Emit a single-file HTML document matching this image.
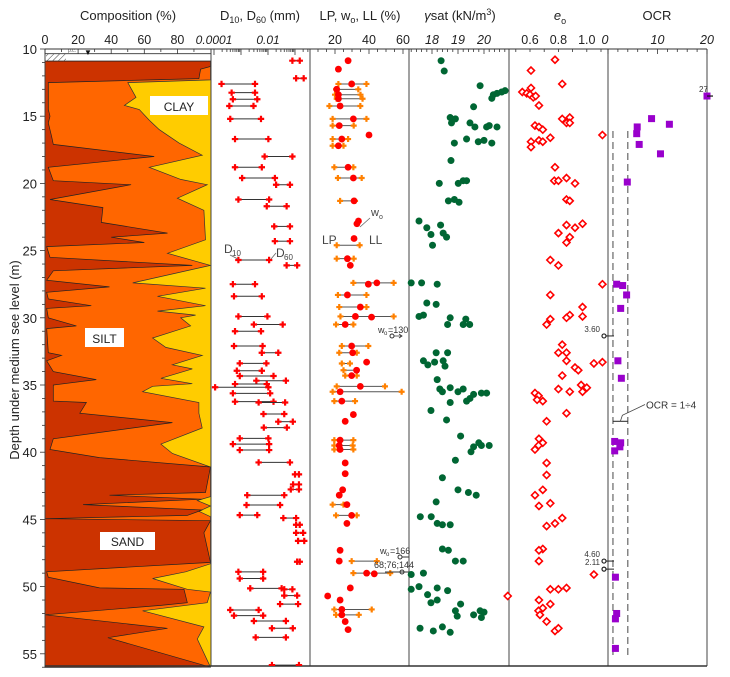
<!DOCTYPE html>
<html><head><meta charset="utf-8"><style>
body{margin:0;background:#fff}
svg{display:block;font-family:"Liberation Sans",Arial,sans-serif}
</style></head><body>
<svg id="c" width="730" height="677" viewBox="0 0 730 677" xmlns="http://www.w3.org/2000/svg">
<defs>
<pattern id="hatch" width="4" height="4" patternUnits="userSpaceOnUse" patternTransform="rotate(45)"><line x1="0" y1="0" x2="0" y2="4" stroke="#444" stroke-width="1"/></pattern>
<clipPath id="clipD"><rect x="211" y="49" width="99" height="617"/></clipPath>
<clipPath id="clipOCR"><rect x="608" y="49" width="99" height="617"/></clipPath>
</defs>
<g id="root"></g>
</svg>
<script>
// ---------- DATA ----------
const sandDepth=[10.9,11.3,11.5,12.2,12.5,14.5,15,15.5,16.5,17.1,18.0,18.8,19.8,20.1,21.2,21.8,22.9,23.2,23.7,24.0,24.4,24.7,25.5,26.1,26.5,27.2,27.7,28.1,28.6,29.1,29.3,30.0,30.6,30.8,32.6,32.8,33.2,34.0,34.6,35.0,36.2,36.3,37.1,37.8,39.0,39.8,40.4,41.1,43.0,43.2,43.5,43.9,44.3,44.7,44.95,45.1,46.0,48.2,48.9,49.3,50.1,50.2,51.2,51.4,52.1,53.1,53.8,56];
const sandPct=[100,100,94,93,2,2,3,2,4,5,66,2,5,52,3,35,34,49,74,40,60,1,3,89,5,1,39,1,2,28,1,2,19,1,2,10,1,5,31,5,5,25,21,77,5,3,33,100,97,39,95,23,95,86,0,100,96,100,1,2,33,84,86,70,0,74,38,100];
const siltTopDepth=[10.9,12.3,12.5,13.6,14.2,14.5,15.3,16.0,17.0,17.9,18.8,19.7,20.1,21.1,22.0,24.2,25.2,26.1,27.4,27.8,28.4,29.1,29.5,29.8,30.0,30.6,31.5,32.2,32.8,33.5,33.8,34.5,34.9,35.1,35.5,36.3,37.1,38.2,39.4,40.1,41.1,43.3,43.6,44.0,44.4,44.8,45.1,48.3,48.9,49.4,50.2,50.4,51.2,51.8,53.0,53.9,56];
const siltTopPct=[100,100,50,55,48,57,63,69,81,95,63,82,98,80,96,97,74,100,53,97,68,97,68,91,82,88,65,73,95,77,89,70,89,65,59,93,93,95,70,77,100,100,92,100,93,100,100,100,85,65,86,100,98,59,96,92,100];

const dDepth=[10.87,12.18,12.6,13.25,13.74,14.24,15.2,16.7,18.0,18.8,19.6,20.1,21.2,21.7,23.2,24.3,25.7,26.1,27.5,28.4,29.9,30.5,31.0,32.1,32.6,33.39,33.94,34.33,34.68,34.93,35.17,35.62,36.24,36.3,37.16,37.73,38.17,38.97,39.4,39.84,40.76,41.65,42.4,42.77,43.2,43.93,44.68,44.9,45.4,46.0,46.6,48.15,48.9,49.4,50.13,50.2,50.67,51.3,51.74,52.16,52.56,53.1,53.78,55.84];
const d10=[0.08,0.11,0.00019,0.00045,0.0005,0.00037,0.0004,0.0006,0.0075,0.0006,0.0011,0.02,0.0008,0.009,0.017,0.018,0.0008,0.049,0.0005,0.00055,0.0008,0.003,0.0006,0.00055,0.0059,0.0009,0.0007,0.0009,0.0037,0.0006,0.00011,0.0005,0.0006,0.0045,0.0068,0.024,0.007,0.0009,0.0005,0.0009,0.0045,0.1,0.085,0.07,0.0017,0.0016,0.0009,0.037,0.11,0.11,0.13,0.12,0.0008,0.0009,0.0022,0.04,0.04,0.028,0.0004,0.00055,0.003,0.014,0.0035,0.014];
const d60=[0.15,0.21,0.0033,0.0033,0.004,0.0029,0.0055,0.0103,0.08,0.0059,0.018,0.065,0.011,0.049,0.065,0.065,0.011,0.12,0.0033,0.0059,0.0095,0.035,0.0055,0.0063,0.024,0.0087,0.0059,0.016,0.046,0.009,0.0103,0.012,0.016,0.043,0.04,0.083,0.05,0.0103,0.011,0.011,0.065,0.14,0.14,0.14,0.04,0.028,0.004,0.11,0.15,0.2,0.22,0.15,0.0066,0.0066,0.032,0.08,0.12,0.13,0.0045,0.0066,0.046,0.083,0.046,0.14];

const limDepth=[12.6,13.0,13.4,13.7,14.24,15.2,15.7,16.7,17.2,18.8,19.6,21.3,24.6,25.6,27.4,28.3,29.2,29.9,30.5,32.1,32.6,33.4,33.9,34.3,35.1,35.5,36.2,39.1,39.5,39.8,43.9,44.7,48.1,49.0,51.7,52.1];
const lpVal=[22,20.6,20,21,16.7,18.6,18.6,18.6,18.6,19.6,21.7,23,21,21,30.8,21.7,22.5,23.2,20.6,24,22.5,24,25,26,21,18.6,19.6,19.6,19.6,19.6,18.6,20.6,29.8,30.8,19.6,20.6];
const llVal=[38.5,33.7,35,36.2,34.9,38.5,31,27.7,25,30.8,35.7,31.8,34.5,31,54.5,38.5,38.5,54.5,30.8,39.6,32.8,28.8,32.7,32.8,49.4,59.2,31.8,30.8,30.4,30.8,25,32.8,44.6,52.5,41.6,34];
const wDepth=[10.87,11.5,12.6,13.0,13.4,13.7,14.24,15.2,15.7,16.4,16.7,17.2,18.8,19.6,21.3,22.8,23.0,24.1,25.6,26.1,27.4,27.5,28.3,29.2,29.9,29.95,30.5,32.1,32.6,33.3,33.9,34.3,35.1,35.5,36.2,37.2,37.7,39.1,39.5,39.8,40.8,41.6,42.8,43.2,43.9,44.7,45.3,47.3,48.1,49.0,49.05,50.1,50.7,51.0,51.7,52.1,52.6,53.2];
const wVal=[27.7,22,29.8,21,22,22,23,30.8,22.5,40,24,22,27.7,30.8,31.2,33.8,32.9,31.2,27.3,29,44.6,39.6,27.3,34.9,32,41.5,26,29.8,30.4,38.6,32.7,29.8,34.9,23,24,30.8,26,23,22.5,23,26,26,24.5,22.5,27,29.8,27,23,22.5,38.6,43.1,29,15.7,23,24,24,26,27.7];

const gDepth=[10.87,11.64,12.73,13.1,13.2,13.3,13.4,13.67,14.3,15.1,15.2,15.5,15.5,15.8,15.8,15.7,15.8,16.7,16.9,16.8,17.0,17.0,18.3,20.0,20.0,19.8,19.8,21.3,21.2,21.4,22.8,23.3,23.8,24.6,23.1,23.7,24.0,27.4,27.4,27.5,28.9,29.0,29.9,29.8,30.0,30.5,30.1,30.5,30.5,32.6,32.6,33.2,33.3,33.2,33.6,33.5,34.6,35.3,35.5,35.2,35.5,35.3,35.7,35.6,35.6,36.2,36.0,36.3,36.9,37.6,38.8,39.6,39.3,39.5,39.5,39.97,40.6,41.9,42.8,43.0,43.2,43.7,44.8,44.8,45.3,45.4,45.4,47.2,47.3,48.1,48.1,49.1,49.0,50.2,50.0,50.1,50.3,50.6,51.2,51.0,51.3,51.8,52.2,52.1,51.8,51.9,52.3,53.1,53.3,53.0,53.4];
const gVal=[18.35,18.47,19.85,20.81,20.68,20.5,20.36,20.3,19.6,18.7,18.9,18.75,19.46,19.65,20.1,20.2,20.5,19.33,19.78,20.0,20.3,18.86,18.73,18.28,19.01,19.2,19.33,18.63,18.86,19.04,17.5,17.8,17.96,18.02,18.33,18.43,18.56,17.2,17.6,18.2,17.8,18.16,17.5,17.67,18.7,18.6,19.3,19.2,19.45,18.16,18.6,17.67,18.1,18.43,18.5,17.84,18.2,18.3,18.4,18.7,19.0,19.2,19.6,19.9,20.1,19.33,19.46,18.7,17.96,18.56,19.1,19.6,19.8,19.9,20.2,19.5,18.9,18.4,19.0,19.4,19.7,18.16,17.55,17.97,18.2,18.4,18.7,18.4,18.63,18.9,19.2,17.2,17.67,17.2,17.5,18.2,18.6,17.83,17.96,18.2,19.1,18.9,18.97,19.6,19.85,20.0,19.9,17.54,18.05,18.4,18.7];

const eDepth=[10.8,11.6,12.6,12.9,13.2,13.3,13.4,13.6,13.5,14.2,15.2,15.1,15.5,15.5,15.7,15.8,16.0,16.4,16.6,16.8,16.9,16.9,17.3,18.8,19.8,19.8,19.6,20.0,21.2,21.3,23.0,23.3,23.1,23.7,24.0,24.4,25.7,26.1,27.5,28.3,29.2,29.9,29.8,30.0,30.1,30.5,32.0,32.6,32.6,33.2,33.7,33.9,33.4,33.3,34.3,35.3,35.5,35.0,35.2,35.5,35.6,35.8,36.1,36.2,37.1,37.7,39.0,39.3,39.5,39.8,40.8,41.7,42.8,43.2,44.0,43.8,44.9,45.3,45.5,47.2,47.3,48.1,49.1,50.2,50.2,50.1,50.7,51.0,51.3,51.6,51.8,52.1,52.6,53.3,53.1];
const eVal=[0.776,0.607,0.827,0.607,0.546,0.577,0.6,0.623,0.64,0.663,0.827,0.88,0.857,0.88,0.635,0.663,0.69,1.11,0.743,0.663,0.69,0.607,0.607,0.776,0.771,0.8,0.857,0.917,0.857,0.88,0.97,0.917,0.857,0.8,0.88,0.857,0.743,0.8,1.11,0.743,0.97,0.97,0.88,0.857,0.743,0.717,0.827,0.8,0.857,0.857,0.917,0.94,1.05,1.11,0.827,0.8,0.88,0.96,1.0,0.97,0.635,0.66,0.65,0.69,0.857,0.717,0.663,0.69,0.66,0.635,0.717,0.717,0.69,0.635,0.663,0.743,0.827,0.776,0.717,0.69,0.663,0.663,1.05,0.743,0.8,0.857,0.443,0.663,0.743,0.69,0.66,0.67,0.717,0.776,0.8];

const ocrDepth=[13.5,15.18,15.6,15.8,16.3,17.1,17.8,19.9,27.5,27.6,28.3,29.3,33.2,34.5,39.2,39.3,39.6,39.9,49.3,52.0,52.4,54.6];
const ocrVal=[27,8.8,12.4,5.9,5.8,6.3,10.6,3.9,1.75,2.96,3.76,2.56,2.0,2.7,1.35,2.56,2.4,1.35,1.5,1.75,1.5,1.5];

const depthTicks=[10,15,20,25,30,35,40,45,50,55];
const compTicks=[0,20,40,60,80];
const lpTicks=[20,40,60];
const gTicks=[18,19,20];
const eTicks=["0.6","0.8","1.0"];
const ocrTicks=[0,10,20];

// ---------- SCALES ----------
const yD=d=>49+(d-10)*13.44;
const xC=p=>45+p*1.655;
const xDm=v=>214+(Math.log10(v)+4)*27;
const xLP=v=>301+v*1.7;
const xG=g=>432+(g-18)*26;
const xE=e=>530+(e-0.6)*142;
const xO=o=>608+Math.min(o,20)*4.95;
const NS="http://www.w3.org/2000/svg";
const root=document.getElementById('root');
function el(tag,attrs,parent){const e=document.createElementNS(NS,tag);for(const k in attrs)e.setAttribute(k,attrs[k]);(parent||root).appendChild(e);return e;}
function txt(x,y,s,attrs,parent){const t=el('text',Object.assign({x:x,y:y,'font-size':12,fill:'#222'},attrs||{}),parent);t.textContent=s;return t;}

// ---------- COMPOSITION ----------
const gComp=el('g',{});


const yel=el('rect',{x:45,y:yD(10.9),width:166,height:yD(56)-yD(10.9),fill:'#ffcc00'},gComp);


function areaPath(ds,ps){let s='M45,'+yD(ds[0]);for(let i=0;i<ds.length;i++)s+=' L'+xC(ps[i]).toFixed(1)+','+yD(ds[i]).toFixed(1);s+=' L45,'+yD(ds[ds.length-1])+' Z';return s;}
const orange=el('path',{d:areaPath(siltTopDepth,siltTopPct),fill:'#ff6600',stroke:'#333','stroke-width':0.7},gComp);


const dark=el('path',{d:areaPath(sandDepth,sandPct),fill:'#cc3300',stroke:'#222','stroke-width':0.7},gComp);


const hatch=el('rect',{x:46,y:yD(10.35),width:20,height:yD(10.9)-yD(10.35),fill:'url(#hatch)'},gComp);


el('line',{x1:45,x2:211,y1:yD(10.35),y2:yD(10.35),stroke:'#333','stroke-width':0.8},gComp);
const wt=txt(88,55,'▼',{'font-size':8,'text-anchor':'middle',fill:'#111'},gComp);


txt(68,52,'p.c.',{'font-size':5,fill:'#555'},gComp);
function labelBox(x,y,w,h,s,name){const g=el('g',{},gComp);el('rect',{x:x,y:y,width:w,height:h,fill:'#fff'},g);txt(x+w/2,y+h-4,s,{'text-anchor':'middle','font-size':12},g);}
labelBox(150,96,58,19,'CLAY','clay-label');
labelBox(85,328,39,19,'SILT','silt-label');
labelBox(100,532,55,18,'SAND','sand-label');

// ---------- FRAMES & AXES ----------
const panels=[45,211,310,409,509,608,707];
for(let i=0;i<panels.length;i++){
  const l=el('line',{x1:panels[i],x2:panels[i],y1:49,y2:666,stroke:'#444','stroke-width':1});
  
  
}
const topAx=el('line',{x1:45,x2:707,y1:49,y2:49,stroke:'#333','stroke-width':1});


const botAx=el('line',{x1:45,x2:707,y1:666,y2:666,stroke:'#333','stroke-width':1.5});


function tick(x,len){el('line',{x1:x,x2:x,y1:49,y2:49+len,stroke:'#333','stroke-width':0.8});}
// depth axis
for(let d=10;d<=56;d++){el('line',{x1:45,x2:d%5===0?40:42,y1:yD(d),y2:yD(d),stroke:'#333','stroke-width':0.8});}
depthTicks.forEach(d=>{const t=txt(37,yD(d)+5,String(d),{'text-anchor':'end','font-size':13});});
const yt=txt(0,0,'Depth under medium see level (m)',{'font-size':13,'text-anchor':'middle',transform:'translate(19,360) rotate(-90)'});


// composition ticks
for(let p=0;p<100;p+=10)tick(xC(p),p%20===0?5:3);
compTicks.forEach(p=>{const t=txt(xC(p),44,String(p),{'text-anchor':'middle','font-size':12.5});});
// D ticks (log)
for(let e=-4;e<=0;e++){for(let m=1;m<10;m++){const x=xDm(m*Math.pow(10,e));if(x>211&&x<310)tick(x,m===1?6:3);}}
[['0.0001',0.0001],['0.01',0.01]].forEach(a=>{const t=txt(xDm(a[1]),44,a[0],{'text-anchor':'middle','font-size':12,'font-style':'italic'});});
// LP ticks
for(let v=10;v<=60;v+=5)tick(xLP(v),v%20===0?5:3);
lpTicks.forEach(v=>{const t=txt(xLP(v),44,String(v),{'text-anchor':'middle','font-size':12.5});});
// gamma ticks
for(let g=17.2;g<=20.9;g+=0.2)tick(xG(g),Math.abs(g-Math.round(g))<0.05?5:3);
gTicks.forEach(g=>{const t=txt(xG(g),44,String(g),{'text-anchor':'middle','font-size':12.5,'font-style':'italic'});});
// e ticks
for(let e=0.5;e<=1.12;e+=0.1)tick(xE(e),3);
eTicks.forEach(s=>{const t=txt(xE(parseFloat(s)),44,s,{'text-anchor':'middle','font-size':12.5});});
// OCR ticks
for(let o=0;o<=20;o+=2)tick(xO(o),o%10===0?5:3);
ocrTicks.forEach(o=>{const t=txt(xO(o)+(o===0?-3:0),44,String(o),{'text-anchor':'middle','font-size':12.5,'font-style':'italic'});});

// titles
function title(x,html,name){const t=el('text',{x:x,y:20,'font-size':13,'text-anchor':'middle',fill:'#222'});t.innerHTML=html;}
title(128,'Composition (%)','composition-title');
title(260,'D<tspan font-size="9" dy="3">10</tspan><tspan dy="-3">, D</tspan><tspan font-size="9" dy="3">60</tspan><tspan dy="-3">  (mm)</tspan>','grain-size-title');
title(360,'LP, w<tspan font-size="9" dy="3">o</tspan><tspan dy="-3">, LL (%)</tspan>','limits-title');
title(460,'<tspan font-style="italic">γ</tspan>sat  (kN/m<tspan font-size="9" dy="-5">3</tspan><tspan dy="5">)</tspan>','unit-weight-title');
title(560,'<tspan font-style="italic">e</tspan><tspan font-size="9" dy="4">o</tspan>','void-ratio-title');
title(657,'OCR','ocr-title');

// ---------- D10/D60 ----------
const gD=el('g',{'clip-path':'url(#clipD)'});


function plus(x,y,c,g,s){el('path',{d:`M${x-s},${y}H${x+s}M${x},${y-s}V${y+s}`,stroke:c,'stroke-width':2.2},g);}
for(let i=0;i<dDepth.length;i++){
  const y=yD(dDepth[i]),x1=xDm(d10[i]),x2=xDm(d60[i]);
  const ln=el('line',{x1:x1,x2:x2,y1:y,y2:y,stroke:'#333','stroke-width':1},gD);
  
  
  plus(x1,y,'#ff0000',gD,3.2);plus(x2,y,'#ff0000',gD,3.2);
}
txt(224,253,'D',{'font-size':12,fill:'#444'});txt(232,256,'10',{'font-size':8,fill:'#444'});
txt(276,257,'D',{'font-size':12,fill:'#444'});txt(284,260,'60',{'font-size':8,fill:'#444'});
el('line',{x1:230,x2:238,y1:255,y2:259,stroke:'#666','stroke-width':0.8});
el('line',{x1:276,x2:271,y1:253,y2:259,stroke:'#666','stroke-width':0.8});

// ---------- LP / w / LL ----------
const gL=el('g',{});


for(let i=0;i<limDepth.length;i++){
  const y=yD(limDepth[i]);
  const ln=el('line',{x1:xLP(lpVal[i]),x2:xLP(llVal[i]),y1:y,y2:y,stroke:'#555','stroke-width':1},gL);
  
  
  plus(xLP(lpVal[i]),y,'#ff8000',gL,3);plus(xLP(llVal[i]),y,'#ff8000',gL,3);
}
for(let i=0;i<wDepth.length;i++){
  const c=el('circle',{cx:xLP(wVal[i]),cy:yD(wDepth[i]),r:3.4,fill:'#ff0000'},gL);
  
  
}
txt(371,216,'w',{'font-size':11,fill:'#444'});txt(379,219,'o',{'font-size':7,fill:'#444'});
el('line',{x1:370,x2:360,y1:218,y2:227,stroke:'#666','stroke-width':0.8});
txt(322,244,'LP',{'font-size':12,fill:'#444'});txt(369,244,'LL',{'font-size':12,fill:'#444'});
txt(378,333,'w',{'font-size':9,fill:'#333'});txt(384,335,'o',{'font-size':6,fill:'#333'});txt(388,333,'=130',{'font-size':9,fill:'#333'});
el('circle',{cx:392,cy:336,r:2,fill:'none',stroke:'#333'});el('path',{d:'M394,336H402M399,334L402,336L399,338',stroke:'#333',fill:'none','stroke-width':0.8});
txt(380,554,'w',{'font-size':9,fill:'#333'});txt(386,556,'o',{'font-size':6,fill:'#333'});txt(390,554,'=166',{'font-size':9,fill:'#333'});
el('circle',{cx:400,cy:557,r:2,fill:'none',stroke:'#333'});el('line',{x1:402,x2:409,y1:557,y2:557,stroke:'#333'});
txt(374,568,'68;76;144',{'font-size':9,fill:'#333'});
el('line',{x1:385,x2:409,y1:572,y2:572,stroke:'#333'});el('circle',{cx:402,cy:572,r:2,fill:'none',stroke:'#333'});

// ---------- gamma ----------
const gGm=el('g',{});


for(let i=0;i<gDepth.length;i++){
  const c=el('circle',{cx:xG(gVal[i]),cy:yD(gDepth[i]),r:3.5,fill:'#006633'},gGm);
  
  
}

// ---------- e0 ----------
const gE=el('g',{});


for(let i=0;i<eDepth.length;i++){
  const x=xE(eVal[i]),y=yD(eDepth[i]);
  const p=el('path',{d:`M${x},${y-3.5}L${x+3.5},${y}L${x},${y+3.5}L${x-3.5},${y}Z`,fill:'#fff',stroke:'#ff0000','stroke-width':1.6},gE);
  
  
}

// ---------- OCR ----------
const gO=el('g',{});


[1,4].forEach(v=>{const l=el('line',{x1:xO(v),x2:xO(v),y1:yD(16.1),y2:yD(55.3),stroke:'#666','stroke-width':1.2,'stroke-dasharray':'7,4'},gO);});
for(let i=0;i<ocrDepth.length;i++){
  const x=xO(ocrVal[i]),y=yD(ocrDepth[i]);
  const r=el('rect',{x:x-3.5,y:y-3.5,width:7,height:7,fill:'#9900cc'},gO);
  
  
  if(ocrVal[i]>20){txt(x-8,y-4,String(ocrVal[i]),{'font-size':8,fill:'#333'},gO);el('line',{x1:x,x2:x+6,y1:y,y2:y,stroke:'#111','stroke-width':1.2},gO);}
}
function offMark(d,label){const y=yD(d);el('circle',{cx:604,cy:y,r:2,fill:'none',stroke:'#222','stroke-width':1.2},gO);el('line',{x1:606,x2:614,y1:y,y2:y,stroke:'#222'},gO);txt(600,y-4,label,{'font-size':8,fill:'#333','text-anchor':'end'},gO);}
offMark(31.35,'3.60');offMark(48.1,'4.60');offMark(48.7,'2.11');
const y37=yD(37.7);
el('line',{x1:xO(1),x2:xO(4),y1:y37,y2:y37,stroke:'#222'},gO);
el('path',{d:`M${(xO(1)+xO(4))/2},${y37}L${(xO(1)+xO(4))/2+2},${y37-6}L645,${yD(36.6)-2}`,fill:'none',stroke:'#444','stroke-width':0.8},gO);
const oc=txt(646,yD(36.6)+2,'OCR = 1÷4',{'font-size':10,fill:'#333'},gO);


</script>
</body></html>
